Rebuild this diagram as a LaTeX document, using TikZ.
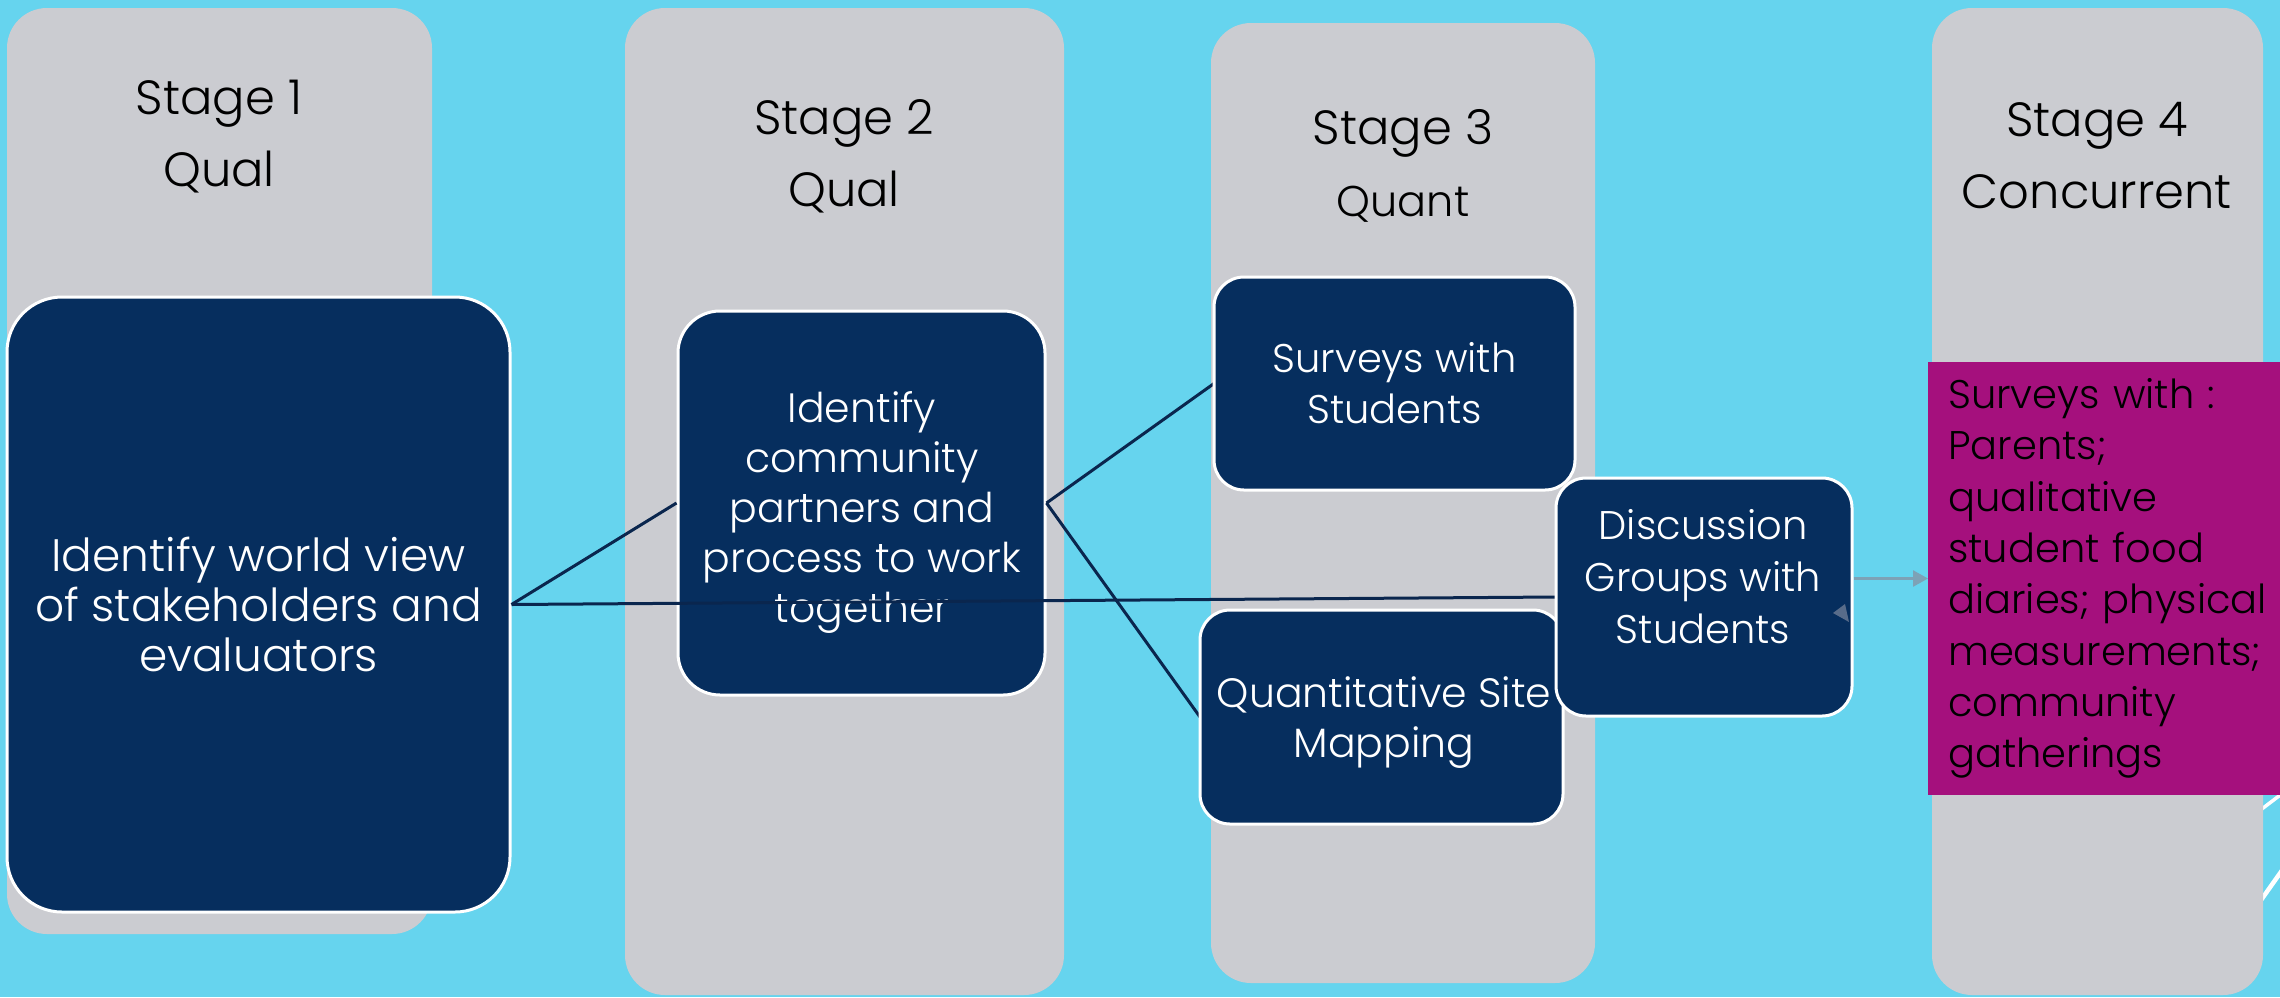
\documentclass[tikz,border=0pt]{standalone}
\usepackage{fontspec}
\setmainfont{Poppins}[UprightFont=* Light]
\usetikzlibrary{arrows.meta}

\definecolor{bgcyan}{RGB}{102,212,238}
\definecolor{colgray}{RGB}{203,204,209}
\definecolor{navy}{RGB}{6,46,94}
\definecolor{linknavy}{RGB}{10,38,78}
\definecolor{plum}{RGB}{165,16,125}
\definecolor{arrowgray}{RGB}{125,162,182}
\definecolor{tipgray}{RGB}{88,108,138}

\begin{document}
\begin{tikzpicture}[x=1pt,y=-1pt,
  stagecol/.style={fill=colgray, rounded corners=40pt},
  heading/.style={font=\fontsize{48}{72}\selectfont, align=center, text=black, inner sep=0pt},
  stepbox/.style={fill=navy, draw=white, line width=3pt, text=white, align=center,
                  inner sep=0pt, font=\fontsize{40}{50}\selectfont},
  boxtext/.style={text=white, align=center, inner sep=0pt, font=\fontsize{40}{52}\selectfont},
  link/.style={draw=linknavy, line width=3pt},
  arrowlink/.style={draw=arrowgray, line width=2.5pt, -{Triangle[length=15pt,width=16pt]}},
  deco/.style={draw=white, line cap=butt}
]
\useasboundingbox (0,0) rectangle (2280,997);
\fill[bgcyan] (0,0) rectangle (2280,997);

% decorative strokes of the backdrop
\draw[deco, line width=3.5pt] (2180,871) -- (2300,780);
\draw[deco, line width=4.5pt] (2210,972) -- (2300,845);

% stage columns
\fill[stagecol] (7,8) rectangle (432,934);
\fill[stagecol] (625,8) rectangle (1064,995);
\fill[stagecol] (1211,23) rectangle (1595,983);
\fill[stagecol] (1932,8) rectangle (2263,995);

% stage headings
\node[heading] (h1) at (219,137) {Stage 1\\Qual};
\node[heading] (h2) at (844,156) {Stage 2\\Qual};
\node[heading] (h3) at (1403,166) {Stage 3\\{\fontsize{43}{70}\selectfont Quant}};
\node[heading] (h4) at (2097,156) {Stage 4\\Concurrent};

% stage 1 and stage 2 steps
\node[stepbox, rounded corners=55pt, minimum width=503pt, minimum height=615pt,
      font=\fontsize{45.5}{50}\selectfont] (world) at (258.5,604.5)
  {Identify world view\\of stakeholders and\\evaluators};
\node[stepbox, rounded corners=42pt, minimum width=367pt, minimum height=384pt] (partners) at (861.5,503) {};
\node[boxtext, font=\fontsize{41}{50}\selectfont] (partnerstext) at (862,512)
  {Identify\\community\\partners and\\process to work\\together};

% links out of the first two stages
\draw[link] (world.east) -- (partners.west);
\draw[link] (partners.east) -- (1214,383.5) coordinate (surveysin);
\draw[link] (partners.east) -- (1200,717) coordinate (mappingin);
\draw[link] (world.east) -- (1556,597) coordinate (discin);

% stage 3 steps
\node[stepbox, rounded corners=30pt, minimum width=361pt, minimum height=213pt,
      font=\fontsize{40}{51}\selectfont] (surveys) at (1394.5,383.5)
  {Surveys with\\Students};
\node[stepbox, rounded corners=30pt, minimum width=363pt, minimum height=214pt] (mapping) at (1381.5,717) {};
\node[boxtext, font=\fontsize{41}{50}\selectfont] (mappingtext) at (1384,723) {Quantitative Site\\Mapping};
\node[stepbox, rounded corners=30pt, minimum width=296pt, minimum height=238pt] (disc) at (1704,597) {};
\node[boxtext] (disctext) at (1703,577) {Discussion\\Groups with\\Students};

% stage 4
\node[fill=plum, anchor=west, minimum height=433pt, text width=330pt, inner xsep=20pt, inner ysep=0pt,
      align=left, text=black, font=\fontsize{40}{51.3}\selectfont] (mag) at (1928,578.5)
  {Surveys with :\\Parents;\\qualitative\\student food\\diaries; physical\\measurements;\\community\\gatherings};

% connector into stage 4
\draw[arrowlink] (disc.east |- mag.west) -- (mag.west);
\fill[tipgray] (1833,613) -- (1845,604) -- (1849,622) -- cycle;
\end{tikzpicture}
\end{document}
